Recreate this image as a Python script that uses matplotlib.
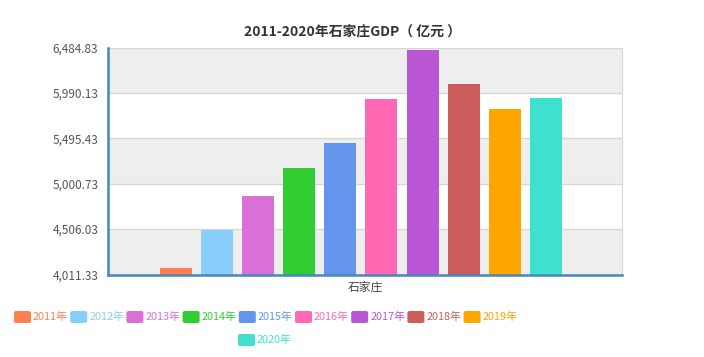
import numpy
import matplotlib
matplotlib.use("Agg")
from matplotlib import pyplot as plt
from matplotlib.patches import FancyBboxPatch

plt.rcParams['font.family'] = ['Noto Sans CJK SC', 'DejaVu Sans']

# data
years = ['2011年', '2012年', '2013年', '2014年', '2015年',
         '2016年', '2017年', '2018年', '2019年', '2020年']
gdp = [4082.7, 4500.2, 4863.7, 5170.3, 5440.6,
       5927.7, 6460.9, 6082.6, 5809.9, 5935.1]
category = '石家庄'
y_ticks = [4011.33, 4506.03, 5000.73, 5495.43, 5990.13, 6484.83]
title = '2011-2020年石家庄GDP（ 亿元 ）'

colors = ['#ff7f50', '#87cefa', '#da70d6', '#32cd32', '#6495ed',
          '#ff69b4', '#ba55d3', '#cd5c5c', '#ffa500', '#40e0d0']

W, H = 704, 357
fig = plt.figure(figsize=(W/100., H/100.), dpi=100)
ax = fig.add_axes([108./W, 1-274.5/H, 514./W, 227./H])

# alternating background bands between the ticks
for k in range(len(y_ticks)-1):
	if k % 2 == 0:
		ax.axhspan(y_ticks[k], y_ticks[k+1], color='#eeeeee', lw=0, zorder=0)
for t in y_ticks[1:]:
	ax.axhline(t, color='#d6d6d6', lw=0.9, zorder=1)

x = numpy.arange(len(gdp))
ax.bar(x, gdp, width=0.78, color=colors, zorder=2)

ax.set_ylim(y_ticks[0], y_ticks[-1])
ax.set_xlim(-1.65, 10.85)
ax.set_yticks(y_ticks)
ax.set_yticklabels(['{:,.2f}'.format(v) for v in y_ticks], fontsize=8.5, color='#555555')
ax.set_xticks([(-1.65+10.85)/2])
ax.set_xticklabels([category], fontsize=8.5, color='#444444')
ax.tick_params(axis='both', length=0, pad=7)
ax.tick_params(axis='x', pad=4)

ax.spines['top'].set_visible(False)
ax.spines['right'].set_color('#d6d6d6')
ax.spines['right'].set_linewidth(0.8)
ax.spines['left'].set_color('#4488bb')
ax.spines['left'].set_linewidth(1.8)
ax.spines['bottom'].set_color('#4488bb')
ax.spines['bottom'].set_linewidth(1.8)

fig.text(352./W, 1-33./H, title, ha='center', va='center', fontsize=10,
	fontweight='bold', color='#333333')

# legend drawn by hand: two rows, coloured swatch + coloured label
row_y = [317, 340]
for i, lab in enumerate(years):
	if i < 9:
		px = 14 + 56.2*i
		py = row_y[0]
	else:
		px = 238
		py = row_y[1]
	box = FancyBboxPatch((px/W, (H-py-6)/H), 17./W, 12./H,
		boxstyle='round,pad=0,rounding_size=0.004', transform=fig.transFigure,
		facecolor=colors[i], edgecolor='none')
	fig.add_artist(box)
	fig.text((px+19)/W, 1-py/H, lab, ha='left', va='center', fontsize=7.8, color=colors[i])

plt.savefig('out.png', dpi=100)
